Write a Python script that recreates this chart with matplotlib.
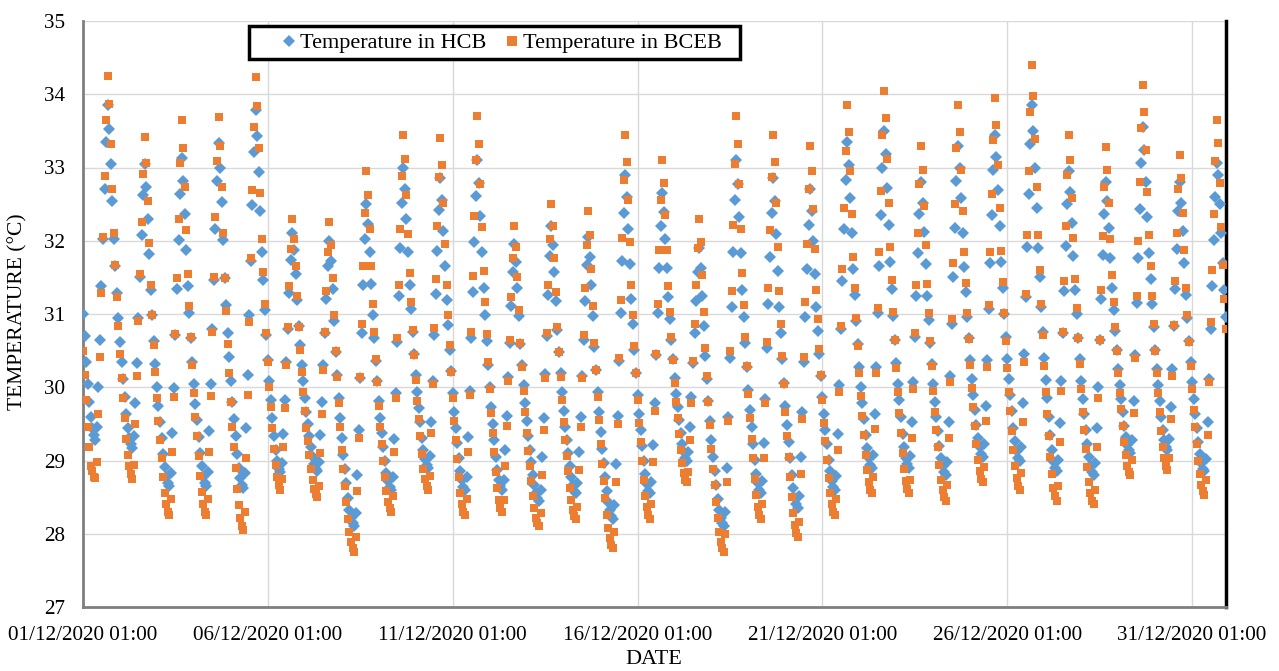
import numpy as np
import pandas as pd
import matplotlib
matplotlib.use('Agg')
import matplotlib.pyplot as plt
import matplotlib.dates as mdates
from matplotlib.lines import Line2D
from matplotlib.patches import Rectangle

# hourly readings, one list per day (01:00 ... 24:00)
hcb_days = [
    [31.0, 30.7, 30.35, 30.05, 29.8, 29.6, 29.45, 29.35, 29.28, 29.46, 30.01, 30.65, 31.38, 32.02, 32.71, 33.35, 33.85, 33.52, 33.05, 32.54, 32.02, 31.65, 31.28, 30.95],
    [30.62, 30.34, 30.11, 29.87, 29.64, 29.45, 29.31, 29.22, 29.17, 29.33, 29.79, 30.33, 30.95, 31.50, 32.08, 32.62, 33.05, 32.74, 32.30, 31.82, 31.33, 30.98, 30.63, 30.32],
    [30.01, 29.75, 29.53, 29.31, 29.09, 28.91, 28.78, 28.69, 28.65, 28.83, 29.37, 29.99, 30.71, 31.34, 32.01, 32.64, 33.13, 32.82, 32.37, 31.88, 31.38, 31.02, 30.67, 30.35],
    [30.04, 29.77, 29.55, 29.32, 29.10, 28.92, 28.78, 28.69, 28.65, 28.84, 29.40, 30.05, 30.80, 31.46, 32.16, 32.82, 33.33, 33.00, 32.53, 32.01, 31.49, 31.12, 30.74, 30.41],
    [30.08, 29.80, 29.56, 29.33, 29.09, 28.90, 28.76, 28.67, 28.62, 28.83, 29.45, 30.17, 30.99, 31.72, 32.49, 33.21, 33.78, 33.43, 32.94, 32.40, 31.85, 31.46, 31.06, 30.72],
    [30.37, 30.08, 29.83, 29.58, 29.33, 29.14, 28.99, 28.89, 28.84, 28.97, 29.36, 29.82, 30.34, 30.80, 31.29, 31.74, 32.10, 31.87, 31.55, 31.19, 30.83, 30.57, 30.31, 30.09],
    [29.86, 29.66, 29.50, 29.34, 29.18, 29.05, 28.95, 28.88, 28.85, 28.98, 29.35, 29.80, 30.30, 30.74, 31.21, 31.65, 32.00, 31.73, 31.34, 30.91, 30.48, 30.17, 29.86, 29.58],
    [29.31, 29.08, 28.88, 28.69, 28.49, 28.33, 28.22, 28.14, 28.10, 28.28, 28.80, 29.42, 30.12, 30.74, 31.40, 32.02, 32.50, 32.23, 31.84, 31.41, 30.98, 30.67, 30.36, 30.08],
    [29.81, 29.58, 29.38, 29.19, 28.99, 28.83, 28.72, 28.64, 28.60, 28.78, 29.30, 29.92, 30.62, 31.24, 31.90, 32.52, 33.00, 32.71, 32.30, 31.85, 31.40, 31.07, 30.75, 30.46],
    [30.17, 29.93, 29.72, 29.52, 29.31, 29.15, 29.02, 28.94, 28.90, 29.06, 29.53, 30.09, 30.72, 31.27, 31.86, 32.42, 32.85, 32.55, 32.13, 31.66, 31.19, 30.85, 30.51, 30.22],
    [29.92, 29.66, 29.45, 29.24, 29.03, 28.86, 28.73, 28.64, 28.60, 28.78, 29.32, 29.95, 30.67, 31.30, 31.98, 32.61, 33.10, 32.79, 32.34, 31.84, 31.35, 30.99, 30.63, 30.31],
    [30.00, 29.73, 29.50, 29.28, 29.05, 28.87, 28.74, 28.65, 28.60, 28.73, 29.14, 29.61, 30.14, 30.61, 31.11, 31.58, 31.95, 31.71, 31.36, 30.97, 30.59, 30.31, 30.03, 29.78],
    [29.54, 29.33, 29.15, 28.98, 28.80, 28.66, 28.56, 28.49, 28.45, 28.60, 29.05, 29.58, 30.18, 30.70, 31.26, 31.79, 32.20, 31.94, 31.58, 31.18, 30.78, 30.48, 30.19, 29.94],
    [29.68, 29.46, 29.28, 29.10, 28.92, 28.77, 28.66, 28.59, 28.55, 28.69, 29.11, 29.60, 30.16, 30.65, 31.18, 31.67, 32.05, 31.78, 31.40, 30.97, 30.55, 30.24, 29.93, 29.66],
    [29.39, 29.16, 28.97, 28.78, 28.59, 28.43, 28.32, 28.24, 28.20, 28.39, 28.95, 29.61, 30.36, 31.02, 31.73, 32.38, 32.90, 32.60, 32.16, 31.68, 31.20, 30.86, 30.51, 30.20],
    [29.90, 29.64, 29.42, 29.20, 28.99, 28.81, 28.68, 28.59, 28.55, 28.71, 29.21, 29.78, 30.44, 31.01, 31.63, 32.20, 32.65, 32.39, 32.03, 31.63, 31.23, 30.93, 30.64, 30.39],
    [30.13, 29.91, 29.73, 29.55, 29.37, 29.22, 29.11, 29.04, 29.00, 29.12, 29.46, 29.87, 30.33, 30.74, 31.18, 31.58, 31.90, 31.63, 31.25, 30.84, 30.42, 30.11, 29.81, 29.54],
    [29.28, 29.05, 28.86, 28.67, 28.48, 28.33, 28.21, 28.14, 28.10, 28.30, 28.90, 29.60, 30.40, 31.10, 31.85, 32.55, 33.10, 32.78, 32.33, 31.83, 31.33, 30.96, 30.60, 30.28],
    [29.96, 29.69, 29.46, 29.23, 29.01, 28.82, 28.69, 28.60, 28.55, 28.72, 29.24, 29.84, 30.53, 31.13, 31.78, 32.38, 32.85, 32.54, 32.09, 31.59, 31.10, 30.74, 30.38, 30.06],
    [29.75, 29.48, 29.25, 29.03, 28.80, 28.62, 28.49, 28.40, 28.35, 28.52, 29.05, 29.66, 30.35, 30.96, 31.61, 32.22, 32.70, 32.41, 32.00, 31.55, 31.10, 30.77, 30.45, 30.16],
    [29.87, 29.63, 29.42, 29.22, 29.01, 28.85, 28.72, 28.64, 28.60, 28.79, 29.36, 30.03, 30.79, 31.45, 32.16, 32.83, 33.35, 33.04, 32.59, 32.10, 31.61, 31.26, 30.90, 30.59],
    [30.28, 30.01, 29.79, 29.57, 29.35, 29.17, 29.03, 28.94, 28.90, 29.08, 29.64, 30.28, 31.02, 31.66, 32.35, 32.99, 33.50, 33.18, 32.72, 32.21, 31.71, 31.34, 30.97, 30.65],
    [30.33, 30.05, 29.82, 29.59, 29.36, 29.18, 29.04, 28.95, 28.90, 29.06, 29.52, 30.07, 30.69, 31.24, 31.83, 32.37, 32.80, 32.52, 32.12, 31.68, 31.24, 30.92, 30.60, 30.32],
    [30.04, 29.80, 29.60, 29.40, 29.20, 29.04, 28.92, 28.84, 28.80, 28.98, 29.52, 30.15, 30.87, 31.50, 32.18, 32.81, 33.30, 33.00, 32.58, 32.11, 31.64, 31.30, 30.96, 30.67],
    [30.37, 30.11, 29.90, 29.69, 29.48, 29.31, 29.18, 29.09, 29.05, 29.23, 29.75, 30.37, 31.07, 31.69, 32.35, 32.97, 33.45, 33.14, 32.69, 32.20, 31.71, 31.36, 31.00, 30.69],
    [30.38, 30.11, 29.89, 29.67, 29.45, 29.27, 29.13, 29.04, 29.00, 29.19, 29.78, 30.46, 31.23, 31.91, 32.64, 33.32, 33.85, 33.50, 33.00, 32.45, 31.90, 31.50, 31.10, 30.75],
    [30.40, 30.10, 29.85, 29.60, 29.35, 29.15, 29.00, 28.90, 28.85, 29.01, 29.51, 30.08, 30.74, 31.31, 31.93, 32.50, 32.95, 32.66, 32.24, 31.79, 31.33, 31.00, 30.67, 30.38],
    [30.09, 29.84, 29.63, 29.42, 29.22, 29.05, 28.92, 28.84, 28.80, 28.96, 29.44, 30.00, 30.64, 31.20, 31.80, 32.36, 32.80, 32.54, 32.17, 31.76, 31.36, 31.06, 30.77, 30.51],
    [30.25, 30.03, 29.84, 29.66, 29.47, 29.32, 29.21, 29.14, 29.10, 29.28, 29.81, 30.44, 31.15, 31.77, 32.44, 33.06, 33.55, 33.24, 32.80, 32.32, 31.83, 31.48, 31.13, 30.82],
    [30.51, 30.25, 30.03, 29.81, 29.59, 29.41, 29.28, 29.19, 29.15, 29.30, 29.73, 30.25, 30.83, 31.34, 31.89, 32.40, 32.80, 32.52, 32.13, 31.69, 31.26, 30.94, 30.63, 30.35],
    [30.07, 29.84, 29.64, 29.44, 29.25, 29.09, 28.97, 28.89, 28.85, 29.02, 29.52, 30.11, 30.79, 31.38, 32.01, 32.60, 33.06, 32.9, 32.5, 32.1, 31.7, 31.33, 30.96],
]

bceb_days = [
    [30.49, 30.17, 29.83, 29.46, 29.19, 28.92, 28.85, 28.78, 28.76, 28.98, 29.64, 30.41, 31.29, 32.05, 32.88, 33.65, 34.25, 33.87, 33.32, 32.71, 32.11, 31.67, 31.23, 30.84],
    [30.46, 30.13, 29.85, 29.58, 29.30, 29.08, 28.92, 28.81, 28.75, 28.94, 29.50, 30.15, 30.90, 31.55, 32.25, 32.91, 33.42, 33.06, 32.54, 31.97, 31.40, 30.99, 30.58, 30.21],
    [29.85, 29.54, 29.28, 29.03, 28.77, 28.56, 28.41, 28.30, 28.25, 28.47, 29.11, 29.87, 30.73, 31.49, 32.30, 33.06, 33.65, 33.27, 32.73, 32.14, 31.54, 31.11, 30.68, 30.30],
    [29.92, 29.60, 29.33, 29.06, 28.79, 28.57, 28.41, 28.30, 28.25, 28.47, 29.12, 29.88, 30.75, 31.51, 32.33, 33.09, 33.69, 33.30, 32.73, 32.11, 31.49, 31.04, 30.59, 30.19],
    [29.80, 29.46, 29.18, 28.90, 28.61, 28.39, 28.22, 28.11, 28.05, 28.30, 29.04, 29.90, 30.89, 31.76, 32.69, 33.55, 34.23, 33.84, 33.27, 32.65, 32.03, 31.58, 31.13, 30.74],
    [30.35, 30.01, 29.73, 29.44, 29.16, 28.94, 28.77, 28.66, 28.60, 28.75, 29.19, 29.71, 30.30, 30.82, 31.38, 31.89, 32.30, 32.03, 31.65, 31.24, 30.82, 30.51, 30.21, 29.94],
    [29.68, 29.45, 29.26, 29.07, 28.88, 28.73, 28.61, 28.54, 28.50, 28.65, 29.10, 29.63, 30.23, 30.75, 31.31, 31.84, 32.25, 31.94, 31.49, 30.99, 30.50, 30.14, 29.78, 29.46],
    [29.15, 28.88, 28.65, 28.43, 28.20, 28.02, 27.89, 27.80, 27.75, 27.96, 28.58, 29.31, 30.14, 30.87, 31.65, 32.38, 32.95, 32.62, 32.16, 31.65, 31.14, 30.76, 30.39, 30.07],
    [29.74, 29.46, 29.23, 29.00, 28.77, 28.58, 28.44, 28.35, 28.30, 28.51, 29.12, 29.85, 30.67, 31.39, 32.16, 32.88, 33.45, 33.11, 32.63, 32.09, 31.56, 31.17, 30.78, 30.44],
    [30.10, 29.81, 29.57, 29.33, 29.09, 28.89, 28.75, 28.65, 28.60, 28.79, 29.37, 30.04, 30.81, 31.48, 32.20, 32.87, 33.40, 33.04, 32.52, 31.96, 31.39, 30.98, 30.57, 30.21],
    [29.85, 29.54, 29.28, 29.02, 28.77, 28.56, 28.40, 28.30, 28.25, 28.47, 29.12, 29.89, 30.76, 31.52, 32.34, 33.10, 33.70, 33.32, 32.78, 32.19, 31.59, 31.16, 30.73, 30.35],
    [29.97, 29.65, 29.38, 29.11, 28.84, 28.62, 28.46, 28.35, 28.30, 28.46, 28.92, 29.47, 30.09, 30.64, 31.23, 31.77, 32.20, 31.91, 31.50, 31.05, 30.60, 30.27, 29.95, 29.66],
    [29.37, 29.13, 28.92, 28.72, 28.51, 28.35, 28.22, 28.14, 28.10, 28.28, 28.80, 29.42, 30.12, 30.74, 31.40, 32.02, 32.50, 32.20, 31.77, 31.30, 30.82, 30.48, 30.14, 29.83],
    [29.53, 29.28, 29.06, 28.85, 28.63, 28.46, 28.33, 28.24, 28.20, 28.37, 28.87, 29.46, 30.13, 30.72, 31.35, 31.94, 32.40, 32.08, 31.62, 31.11, 30.61, 30.24, 29.87, 29.55],
    [29.23, 28.95, 28.72, 28.49, 28.26, 28.08, 27.94, 27.85, 27.80, 28.03, 28.70, 29.50, 30.40, 31.19, 32.04, 32.83, 33.45, 33.08, 32.56, 31.98, 31.40, 30.98, 30.56, 30.20],
    [29.83, 29.51, 29.25, 28.99, 28.73, 28.52, 28.36, 28.25, 28.20, 28.40, 28.98, 29.67, 30.45, 31.14, 31.88, 32.56, 33.10, 32.79, 32.35, 31.87, 31.38, 31.03, 30.68, 30.37],
    [30.06, 29.80, 29.58, 29.36, 29.14, 28.96, 28.83, 28.74, 28.70, 28.84, 29.28, 29.78, 30.36, 30.86, 31.40, 31.90, 32.30, 31.98, 31.53, 31.03, 30.53, 30.16, 29.80, 29.48],
    [29.16, 28.89, 28.66, 28.43, 28.21, 28.02, 27.89, 27.80, 27.75, 27.99, 28.70, 29.54, 30.49, 31.32, 32.21, 33.05, 33.70, 33.32, 32.77, 32.16, 31.56, 31.12, 30.68, 30.29],
    [29.91, 29.58, 29.30, 29.03, 28.75, 28.53, 28.37, 28.26, 28.20, 28.41, 29.04, 29.78, 30.62, 31.35, 32.14, 32.87, 33.45, 33.07, 32.52, 31.91, 31.31, 30.87, 30.43, 30.04],
    [29.66, 29.33, 29.05, 28.78, 28.50, 28.28, 28.12, 28.01, 27.95, 28.16, 28.81, 29.56, 30.41, 31.16, 31.96, 32.71, 33.30, 32.95, 32.44, 31.89, 31.33, 30.93, 30.52, 30.17],
    [29.82, 29.51, 29.26, 29.01, 28.76, 28.55, 28.40, 28.30, 28.25, 28.47, 29.15, 29.93, 30.83, 31.61, 32.45, 33.23, 33.85, 33.48, 32.95, 32.37, 31.78, 31.36, 30.94, 30.56],
    [30.19, 29.88, 29.61, 29.35, 29.08, 28.87, 28.71, 28.60, 28.55, 28.77, 29.43, 30.20, 31.08, 31.85, 32.68, 33.45, 34.05, 33.67, 33.12, 32.51, 31.91, 31.47, 31.03, 30.64],
    [30.26, 29.93, 29.65, 29.38, 29.10, 28.88, 28.72, 28.61, 28.55, 28.74, 29.31, 29.98, 30.74, 31.40, 32.11, 32.78, 33.30, 32.96, 32.48, 31.94, 31.41, 31.02, 30.63, 30.29],
    [29.95, 29.66, 29.42, 29.18, 28.94, 28.74, 28.60, 28.50, 28.45, 28.67, 29.31, 30.07, 30.93, 31.69, 32.50, 33.26, 33.85, 33.49, 32.97, 32.41, 31.84, 31.43, 31.02, 30.66],
    [30.30, 29.99, 29.73, 29.47, 29.22, 29.01, 28.85, 28.75, 28.70, 28.91, 29.54, 30.28, 31.12, 31.85, 32.64, 33.37, 33.95, 33.58, 33.04, 32.45, 31.86, 31.44, 31.01, 30.63],
    [30.26, 29.94, 29.67, 29.40, 29.14, 28.92, 28.76, 28.65, 28.60, 28.83, 29.53, 30.34, 31.27, 32.08, 32.95, 33.76, 34.40, 33.98, 33.39, 32.73, 32.08, 31.60, 31.13, 30.71],
    [30.29, 29.94, 29.64, 29.34, 29.05, 28.81, 28.63, 28.51, 28.45, 28.65, 29.25, 29.95, 30.75, 31.45, 32.20, 32.90, 33.45, 33.10, 32.59, 32.04, 31.48, 31.08, 30.67, 30.32],
    [29.97, 29.66, 29.41, 29.16, 28.91, 28.70, 28.55, 28.45, 28.40, 28.60, 29.18, 29.86, 30.64, 31.33, 32.06, 32.74, 33.28, 32.97, 32.52, 32.03, 31.53, 31.17, 30.82, 30.50],
    [30.19, 29.92, 29.70, 29.47, 29.25, 29.07, 28.93, 28.84, 28.80, 29.01, 29.65, 30.40, 31.25, 32.00, 32.80, 33.54, 34.13, 33.76, 33.24, 32.66, 32.08, 31.66, 31.24, 30.87],
    [30.50, 30.19, 29.92, 29.66, 29.40, 29.19, 29.03, 28.92, 28.87, 29.04, 29.56, 30.16, 30.85, 31.45, 32.10, 32.70, 33.17, 32.85, 32.38, 31.87, 31.36, 30.99, 30.62, 30.29],
    [29.97, 29.69, 29.46, 29.23, 28.99, 28.81, 28.67, 28.58, 28.53, 28.73, 29.35, 30.07, 30.89, 31.60, 32.37, 33.09, 33.65, 33.33, 32.79, 32.19, 31.67, 31.2, 30.8],
]

series_names = ['Temperature in HCB', 'Temperature in BCEB']
tick_dates = ['2020-12-01 01:00', '2020-12-06 01:00', '2020-12-11 01:00', '2020-12-16 01:00',
              '2020-12-21 01:00', '2020-12-26 01:00', '2020-12-31 01:00']

hcb = np.concatenate([np.array(d) for d in hcb_days])
bceb = np.concatenate([np.array(d) for d in bceb_days])
times = pd.date_range('2020-12-01 01:00', periods=len(hcb), freq='h')

blue = '#5B9BD5'
orange = '#ED7D31'
font = 'Liberation Serif'
W, H = 1279, 671

fig = plt.figure(figsize=(W / 100, H / 100), dpi=100)
ax = fig.add_axes([83 / W, 1 - 607 / H, (1226 - 83) / W, (607 - 21) / H])

ax.plot(times, hcb, linestyle='none', marker='D', ms=5.8, mew=0, color=blue, zorder=3)
ax.plot(times, bceb, linestyle='none', marker='s', ms=5.8, mew=0, color=orange, zorder=4)

ax.set_xlim(times[0], times[-1])
ax.set_ylim(27, 35)
ax.set_yticks(range(27, 36))
ax.set_xticks(pd.to_datetime(tick_dates))
ax.xaxis.set_major_formatter(mdates.DateFormatter('%d/%m/%Y %H:%M'))

ax.grid(True, color='#D9D9D9', linewidth=1.0, zorder=0)
ax.set_axisbelow(True)
ax.tick_params(length=0, labelsize=15.2)
ax.tick_params(axis='x', pad=14)
ax.tick_params(axis='y', pad=13)
for lab in ax.get_xticklabels() + ax.get_yticklabels():
    lab.set_fontfamily(font)

ax.spines['top'].set_visible(False)
ax.spines['left'].set_color('#7F7F7F')
ax.spines['bottom'].set_color('#7F7F7F')
ax.spines['left'].set_linewidth(2)
ax.spines['bottom'].set_linewidth(2)
ax.spines['right'].set_color('black')
ax.spines['right'].set_linewidth(2.5)

fig.text(18 / W, 1 - 312 / H, 'TEMPERATURE (°C)', rotation=90, ha='center', va='center',
         fontsize=15.5, fontfamily=font)
fig.text(654 / W, 1 - 660 / H, 'DATE', ha='center', va='center', fontsize=16, fontfamily=font)

# legend: entries without frame, box drawn separately
handles = [Line2D([], [], linestyle='none', marker='D', ms=6.5, mew=0, color=blue),
           Line2D([], [], linestyle='none', marker='s', ms=6.5, mew=0, color=orange)]
fs = 16
em = fs * 100 / 72
leg = fig.legend(handles, series_names, loc='center left',
                 bbox_to_anchor=((289 - 0.25 * em) / W, 1 - 43 / H),
                 ncol=2, frameon=False, prop={'family': font, 'size': fs},
                 handlelength=0.5, handletextpad=0.25, columnspacing=20 / em,
                 borderpad=0, borderaxespad=0)
fig.add_artist(Rectangle((249 / W, 1 - 59 / H), (740 - 249) / W, 33 / H, transform=fig.transFigure,
                         fill=True, facecolor='white', edgecolor='black', linewidth=2.5, zorder=5))
leg.set_zorder(6)

fig.savefig('out.png', dpi=100)
